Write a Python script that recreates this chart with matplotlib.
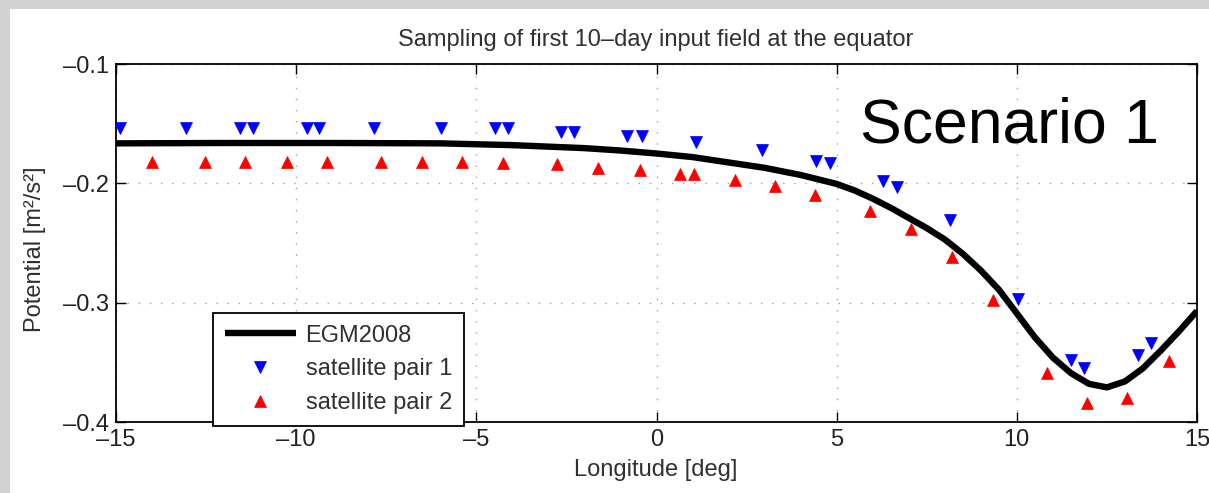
import matplotlib
matplotlib.use("Agg")
import matplotlib.pyplot as plt
from matplotlib.patches import Rectangle

plt.rcParams['font.family'] = ['Liberation Sans', 'DejaVu Sans']

# EGM2008 reference curve
egm_lon = [-15, -12, -9, -6, -4, -2, -1, 0, 1, 2, 3, 4, 5, 5.5, 6, 6.5, 7, 7.5, 8,
           8.5, 9, 9.5, 10, 10.5, 11, 11.5, 12, 12.5, 13, 13.5, 14, 14.5, 15]
egm_pot = [-0.1665, -0.1662, -0.1662, -0.1665, -0.168, -0.1705, -0.1725, -0.175,
           -0.178, -0.1825, -0.187, -0.193, -0.2005, -0.206, -0.2128, -0.2205, -0.229,
           -0.2375, -0.247, -0.259, -0.273, -0.289, -0.309, -0.329, -0.346, -0.359,
           -0.368, -0.371, -0.366, -0.355, -0.340, -0.324, -0.307]

# satellite pair 1 (blue, down triangles)
sat1_lon = [-14.89, -13.06, -11.56, -11.19, -9.69, -9.36, -7.83, -5.97, -4.47, -4.11,
            -2.64, -2.28, -0.81, -0.39, 1.11, 2.94, 4.42, 4.81, 6.28, 6.67, 8.14,
            10.03, 11.5, 11.86, 13.36, 13.72]
sat1_pot = [-0.1538, -0.1538, -0.1538, -0.1538, -0.1538, -0.1538, -0.1538, -0.1538,
            -0.154, -0.154, -0.157, -0.157, -0.160, -0.160, -0.165, -0.172, -0.181,
            -0.183, -0.198, -0.203, -0.231, -0.297, -0.348, -0.355, -0.344, -0.334]

# satellite pair 2 (red, up triangles)
sat2_lon = [-14.0, -12.53, -11.42, -10.25, -9.14, -7.64, -6.5, -5.39, -4.25, -2.75,
            -1.61, -0.47, 0.64, 1.03, 2.17, 3.28, 4.39, 5.92, 7.06, 8.19, 9.33,
            10.83, 11.94, 13.06, 14.22]
sat2_pot = [-0.1824, -0.1824, -0.1824, -0.1824, -0.1824, -0.1824, -0.1824, -0.182,
            -0.183, -0.184, -0.187, -0.189, -0.192, -0.192, -0.197, -0.2025, -0.210,
            -0.223, -0.238, -0.262, -0.298, -0.359, -0.384, -0.380, -0.349]

x_ticks = [-15, -10, -5, 0, 5, 10, 15]
y_ticks = [-0.4, -0.3, -0.2, -0.1]

W, H = 1209, 493
fig = plt.figure(figsize=(W / 100, H / 100), dpi=100)
fig.patch.set_facecolor('#d3d3d3')
fig.add_artist(Rectangle((10 / W, 0), 1 - 10 / W, 1 - 9 / H, transform=fig.transFigure,
                         facecolor='white', edgecolor='none', zorder=-10))

ax = fig.add_axes([116 / W, 71 / H, (1197 - 116) / W, (422 - 64) / H])
ax.set_facecolor('white')

ax.plot(egm_lon, egm_pot, color='black', lw=4.6, label='EGM2008', zorder=3,
        solid_capstyle='butt', solid_joinstyle='round')
ax.plot(sat1_lon, sat1_pot, linestyle='none', marker='v', color='#0000ff', ms=8,
        mew=0.5, label='satellite pair 1', zorder=4)
ax.plot(sat2_lon, sat2_pot, linestyle='none', marker='^', color='#ff0000', ms=8,
        mew=0.5, label='satellite pair 2', zorder=4)

ax.set_xlim(-15, 15)
ax.set_ylim(-0.4, -0.1)
ax.set_xticks(x_ticks)
ax.set_yticks(y_ticks)
ax.set_yticklabels([f'{v:.1f}'.replace('-', '\u2013') for v in y_ticks])
ax.set_xticklabels([str(v).replace('-', '\u2013') for v in x_ticks])
ax.tick_params(direction='in', length=7, width=1, top=True, right=True,
               labelsize=17, colors='black', labelcolor='#222222', pad=5)
ax.grid(True, color='#a0a0a0', lw=1, linestyle=(0, (1, 7)))
for s in ax.spines.values():
    s.set_linewidth(1.3)
    s.set_color('black')

ax.text(0.688, 0.782, 'Scenario 1', transform=ax.transAxes, fontsize=45,
        va='baseline', ha='left', color='black')

fig.text(656 / W, 1 - 40 / H, 'Sampling of first 10\u2013day input field at the equator',
         ha='center', va='center', fontsize=17, color='#303030')
fig.text(656 / W, 1 - 470 / H, 'Longitude [deg]', ha='center', va='center',
         fontsize=17, color='#303030')
fig.text(35 / W, 1 - 249 / H, 'Potential [m\u00b2/s\u00b2]', ha='center', va='center',
         rotation=90, fontsize=17, color='#303030')

leg = ax.legend(loc='lower left', bbox_to_anchor=(0.0897, -0.011), borderaxespad=0,
                fontsize=17, handlelength=3.0, handletextpad=0.42, labelspacing=0.5,
                borderpad=0.5, fancybox=False, framealpha=1, edgecolor='black')
leg.get_frame().set_linewidth(1.3)
for t in leg.get_texts():
    t.set_color('#303030')
leg.set_zorder(5)

fig.savefig('out.png', dpi=100, facecolor=fig.get_facecolor())
